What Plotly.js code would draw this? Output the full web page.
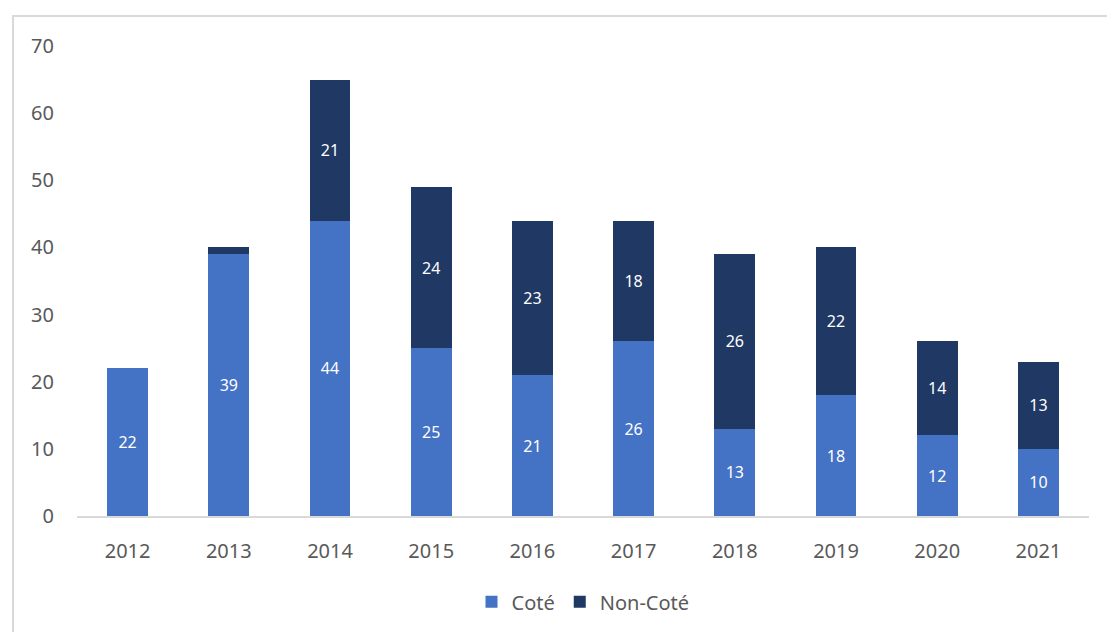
<!DOCTYPE html>
<html>
<head>
<meta charset="utf-8">
<script src="https://cdn.plot.ly/plotly-3.0.1.min.js"></script>
<style>
  html, body { margin: 0; padding: 0; background: #fff; overflow: hidden; }
  #chart { width: 1107px; height: 632px; position: absolute; left: 0; top: 0; }
  #frame { position: absolute; left: 12px; top: 15px; width: 1200px; height: 700px;
           border: 2px solid #d9d9d9; pointer-events: none; box-sizing: border-box; }
</style>
</head>
<body>
<div id="chart"></div>
<div id="frame"></div>
<script>
const years = ['2012','2013','2014','2015','2016','2017','2018','2019','2020','2021'];
const cote = [22, 39, 44, 25, 21, 26, 13, 18, 12, 10];
const nonCote = [0, 1, 21, 24, 23, 18, 26, 22, 14, 13];
const seriesNames = ['Coté', 'Non-Coté'];
const colors = ['#4472C4', '#203864'];

const labelOf = v => (v >= 5 ? String(v) : '');

const traces = [cote, nonCote].map((vals, i) => ({
  type: 'bar',
  name: seriesNames[i],
  x: years,
  y: vals,
  text: vals.map(labelOf),
  textposition: 'inside',
  insidetextanchor: 'middle',
  textangle: 0,
  constraintext: 'none',
  textfont: { color: '#ffffff', size: 16, family: 'Noto Sans' },
  marker: { color: colors[i], line: { width: 0 } },
  hoverinfo: 'x+y+name'
}));

const layout = {
  width: 1107,
  height: 632,
  barmode: 'stack',
  bargap: 0.595,
  paper_bgcolor: '#ffffff',
  plot_bgcolor: '#ffffff',
  margin: { l: 77, r: 18, t: 46, b: 115 },
  font: { family: 'Noto Sans', color: '#595959', size: 20 },
  xaxis: {
    type: 'category',
    showgrid: false,
    showline: true,
    linecolor: '#d9d9d9',
    linewidth: 2,
    ticks: '',
    ticklabelstandoff: 16,
    tickfont: { size: 20, color: '#595959' },
    zeroline: false
  },
  yaxis: {
    range: [0, 70],
    dtick: 10,
    showgrid: false,
    showline: false,
    zeroline: false,
    ticks: '',
    ticklabelstandoff: 22,
    tickfont: { size: 20, color: '#595959' }
  },
  showlegend: true,
  legend: {
    orientation: 'h',
    x: 0.5,
    xanchor: 'center',
    y: -0.18,
    yanchor: 'middle',
    font: { size: 20, color: '#595959' },
    itemwidth: 30,
    traceorder: 'normal'
  }
};

Plotly.newPlot('chart', traces, layout, { displayModeBar: false, staticPlot: true });
</script>
</body>
</html>
